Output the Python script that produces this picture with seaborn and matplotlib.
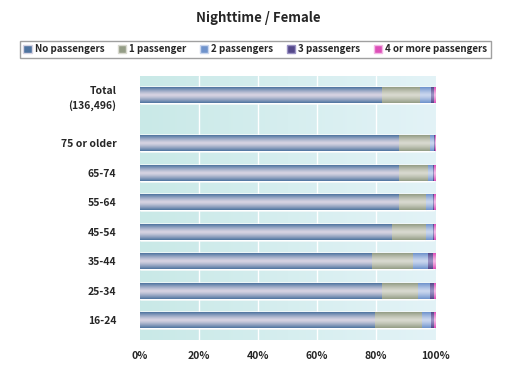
import numpy as np
import pandas as pd
import matplotlib
matplotlib.use("Agg")
import matplotlib.pyplot as plt
import matplotlib.transforms as mtransforms
from matplotlib.colors import LinearSegmentedColormap
from matplotlib.patches import Patch
import seaborn as sns

# data (percent of drivers, nighttime / female)
groups = ["Total\n(136,496)", "75 or older", "65-74", "55-64", "45-54", "35-44", "25-34", "16-24"]
ypos = [7.63, 6, 5, 4, 3, 2, 1, 0]
series = ["No passengers", "1 passenger", "2 passengers", "3 passengers", "4 or more passengers"]
no_pass = [82.0, 87.7, 87.7, 87.7, 85.1, 78.3, 82.0, 79.5]
one_pass = [12.9, 10.3, 9.6, 9.2, 11.6, 13.9, 12.1, 15.8]
two_pass = [3.4, 1.4, 1.7, 2.2, 2.3, 5.4, 4.1, 3.0]
three_pass = [1.1, 0.5, 0.6, 0.5, 0.6, 1.7, 1.3, 1.1]
four_pass = [0.6, 0.1, 0.4, 0.4, 0.4, 0.7, 0.5, 0.6]

df = pd.DataFrame({"y": ypos, "group": groups, "No passengers": no_pass,
                   "1 passenger": one_pass, "2 passengers": two_pass,
                   "3 passengers": three_pass, "4 or more passengers": four_pass})

base_cols = ["#4f74a0", "#949d86", "#6f93cc", "#54488a", "#dd4fb8"]
light_cols = ["#d6d3e2", "#d8d9cf", "#c9d6ee", "#9a92c4", "#f3b8e4"]

sns.set_style("white")
plt.rcParams["font.family"] = ["Noto Sans CJK JP", "DejaVu Sans"]
plt.rcParams["font.weight"] = "bold"

fig = plt.figure(figsize=(5.21, 3.81), dpi=100)
ax = fig.add_axes([0.2687, 0.1076, 0.5663, 0.6929])

# background gradient
bg = LinearSegmentedColormap.from_list("bg", ["#c9e9e7", "#e3f3f7"])
ax.imshow(np.linspace(0, 1, 256).reshape(1, -1), cmap=bg, aspect="auto",
          extent=[0, 100, -0.68, 8.29], zorder=0)

# stacked bars: draw cumulative totals from the right end down
cum = df[series].cumsum(axis=1)
bar_groups = []
for i in range(len(series) - 1, -1, -1):
    n0 = len(ax.patches)
    sns.barplot(data=cum, x=series[i], y=df["y"], orient="h", native_scale=True,
                color=base_cols[i], width=0.54, saturation=1, ax=ax, zorder=2)
    bar_groups.append((i, ax.patches[n0:]))

# glossy shading for each bar
t = np.linspace(0, 1, 40)
shade = np.abs(2 * t - 1) ** 1.3
for i, patches in bar_groups:
    cmap = LinearSegmentedColormap.from_list("s%d" % i, [light_cols[i], base_cols[i]])
    for p in patches:
        x0, y0 = p.get_x(), p.get_y()
        w, h = p.get_width(), p.get_height()
        im = ax.imshow(shade.reshape(-1, 1), cmap=cmap, aspect="auto",
                       extent=[x0, x0 + w, y0, y0 + h], zorder=2 + (5 - i) * 0.01)
        im.set_clip_path(p)

ax.set_xlim(0, 100)
ax.set_ylim(-0.68, 8.29)
for v in [20, 40, 60, 80]:
    ax.axvline(v, color="white", lw=1, zorder=1)

ax.set_xticks([0, 20, 40, 60, 80, 100])
ax.set_xticklabels(["0%", "20%", "40%", "60%", "80%", "100%"], fontsize=7.5, fontweight="bold")
ax.set_yticks(ypos)
ax.set_yticklabels(groups, fontsize=7.5, fontweight="bold", linespacing=1.5)
ax.tick_params(axis="x", length=0, pad=8)
ax.tick_params(axis="y", length=0, pad=17)
lbl = ax.get_yticklabels()[0]
lbl.set_verticalalignment("top")
lbl.set_transform(lbl.get_transform() + mtransforms.ScaledTranslation(0, 7 / 72, fig.dpi_scale_trans))
ax.set_xlabel("")
ax.set_ylabel("")
for s in ax.spines.values():
    s.set_visible(False)

fig.text(0.495, 0.952, "Nighttime / Female", ha="center", va="center",
         fontsize=9.5, fontweight="bold")

handles = [Patch(facecolor=base_cols[i], edgecolor=light_cols[i], label=series[i])
           for i in range(len(series))]
leg = fig.legend(handles=handles, loc="center", bbox_to_anchor=(0.49, 0.871), ncol=5,
                 fontsize=7, frameon=True, fancybox=False, handlelength=0.9,
                 handleheight=0.9, handletextpad=0.3, columnspacing=1.35,
                 borderpad=0.35)
leg.get_frame().set_edgecolor("#888888")
leg.get_frame().set_linewidth(1)

fig.savefig("out.png", dpi=100)
